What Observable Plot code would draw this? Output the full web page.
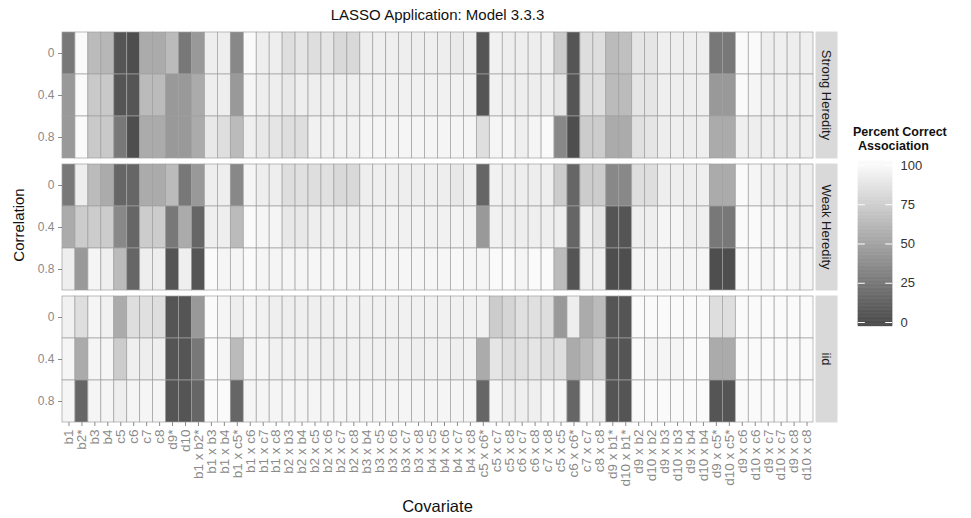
<!DOCTYPE html>
<html><head><meta charset="utf-8">
<script src="https://cdn.jsdelivr.net/npm/d3@7"></script>
<script src="https://cdn.jsdelivr.net/npm/@observablehq/plot@0.6"></script>
<style>
body{margin:0;background:#fff;font-family:"Liberation Sans",Arial,sans-serif;}
#wrap{position:relative;width:971px;height:518px;overflow:hidden;background:#fff;}
#main{position:absolute;left:0;top:0;}
#legend{position:absolute;left:845px;top:150px;}
#title{position:absolute;left:62px;width:751px;top:6px;text-align:center;font-size:15px;color:#111;}
#ylab{position:absolute;left:18px;top:225px;transform:translate(-50%,-50%) rotate(-90deg);font-size:15px;color:#111;white-space:nowrap;}
#xlab{position:absolute;left:62px;width:751px;top:497px;text-align:center;font-size:16.5px;color:#111;}
#legtitle{position:absolute;left:853px;top:125px;font-size:12.5px;font-weight:bold;color:#111;line-height:14px;white-space:nowrap;}
#legtitle span{padding-left:5px;}
</style></head><body>
<div id="wrap">
 <div id="main"></div>
 <div id="legend"></div>
 <div id="title">LASSO Application: Model 3.3.3</div>
 <div id="ylab">Correlation</div>
 <div id="xlab">Covariate</div>
 <div id="legtitle">Percent Correct<br><span>Association</span></div>
</div>
<script>
const covariates = ["b1","b2*","b3","b4","c5","c6","c7","c8","d9*","d10",
 "b1 x b2*","b1 x b3","b1 x b4","b1 x c5*","b1 x c6","b1 x c7","b1 x c8",
 "b2 x b3","b2 x b4","b2 x c5","b2 x c6","b2 x c7","b2 x c8",
 "b3 x b4","b3 x c5","b3 x c6","b3 x c7","b3 x c8",
 "b4 x c5","b4 x c6","b4 x c7","b4 x c8",
 "c5 x c6*","c5 x c7","c5 x c8","c6 x c7","c6 x c8","c7 x c8",
 "c5 x c5","c6 x c6*","c7 x c7","c8 x c8",
 "d9 x b1*","d10 x b1*","d9 x b2","d10 x b2","d9 x b3","d10 x b3","d9 x b4","d10 x b4",
 "d9 x c5*","d10 x c5*","d9 x c6","d10 x c6","d9 x c7","d10 x c7","d9 x c8","d10 x c8"];
const correlations = ["0","0.4","0.8"];
const panels = ["Strong Heredity","Weak Heredity","iid"];

const strongR0  = [26,100,64,62,6,2,55,55,64,26, 45,93,93,35,100,93,93, 84,88,84,88,81,81, 93,94,94,93,93, 94,93,91,93, 6,95,93,93,93,93, 74,6,84,84, 64,67,88,88,94,93,94,93,26,26,100,100,93,94,93,94];
const strongR04 = [45,100,72,72,6,6,64,64,45,45, 55,93,93,45,97,93,93, 90,93,93,93,93,93, 95,95,95,95,95, 95,95,95,95, 6,95,94,93,93,93, 88,6,84,84, 64,64,88,88,94,93,94,94,45,45,100,97,94,94,94,94];
const strongR08 = [45,100,72,72,26,2,55,55,45,45, 55,90,84,64,94,90,88, 84,84,95,95,95,95, 97,97,97,97,97, 97,97,97,97, 84,97,97,94,97,100, 35,2,74,74, 55,55,85,88,93,94,93,93,55,55,94,93,93,93,93,93];
const weakR0    = [26,93,64,55,16,16,55,55,64,26, 45,93,93,35,97,93,93, 84,85,84,85,81,81, 93,94,94,93,93, 94,93,90,93, 16,95,93,93,93,93, 74,16,74,74, 35,35,84,84,93,93,93,94,55,55,100,97,94,93,93,93];
const weakR04   = [55,74,74,74,35,16,74,74,26,55, 16,94,93,64,100,97,97, 90,90,93,94,93,93, 95,95,96,95,96, 95,95,96,95, 45,95,94,93,94,94, 93,16,93,88, 6,6,93,93,97,97,94,94,26,26,100,100,97,97,95,95];
const weakR08   = [93,45,97,94,64,16,93,93,6,94, 6,100,97,97,100,97,97, 97,97,98,98,98,97, 98,98,98,98,98, 98,98,99,98, 97,100,100,97,100,100, 64,6,94,93, 2,2,97,97,97,97,97,97,2,2,100,100,97,100,97,97];
const iidR0     = [95,84,97,95,55,84,85,84,6,6, 45,100,97,93,97,95,94, 93,94,94,94,95,95, 95,95,95,95,95, 95,95,95,95, 95,74,79,85,85,84, 45,93,55,64, 6,6,100,100,100,100,100,100,84,84,100,100,100,100,100,100];
const iidR04    = [97,55,97,97,74,94,93,94,6,6, 26,100,97,64,97,97,95, 95,95,95,94,94,95, 95,95,95,95,94, 95,95,94,95, 55,88,84,85,88,84, 84,55,64,74, 6,6,100,97,97,97,100,100,55,55,100,100,100,100,100,100];
const iidR08    = [97,16,97,97,93,97,97,97,6,6, 16,100,100,16,97,97,97, 97,97,97,97,97,97, 97,97,97,97,97, 97,97,97,97, 16,97,94,94,94,97, 97,16,97,94, 6,6,100,100,100,100,100,100,6,6,100,100,100,100,100,100];
const legendBreaks = [0,25,50,75,100];

const series = [
  [panels[0], [strongR0, strongR04, strongR08]],
  [panels[1], [weakR0, weakR04, weakR08]],
  [panels[2], [iidR0, iidR04, iidR08]]
];
const rows = [];
for (const [panel, rs] of series) {
  rs.forEach((vals, ri) => vals.forEach((v, ci) => rows.push({panel, correlation: correlations[ri], covariate: covariates[ci], value: v})));
}

const colorOpts = {type: "linear", domain: [0, 100], range: ["#4a4a4a", "#fafafa"], interpolate: "rgb", clamp: true};

const main = Plot.plot({
  width: 845, height: 518,
  marginTop: 30, marginLeft: 62, marginRight: 32, marginBottom: 95.5,
  style: {fontFamily: "Liberation Sans, Arial, sans-serif", fontSize: "13px", color: "#8a8a8a", background: "transparent"},
  x: {domain: covariates, padding: 0, label: null},
  y: {domain: correlations, padding: 0, label: null},
  fy: {domain: panels, padding: 0.038, label: null, axis: null},
  color: colorOpts,
  marks: [
    Plot.frame({fill: "#d9d9d9", stroke: null, insetLeft: 753, insetRight: -24}),
    Plot.cell(rows, {x: "covariate", y: "correlation", fy: "panel", fill: "value", stroke: "#a0a0a0", strokeWidth: 0.7, inset: 0}),
    Plot.text(panels, {fy: d => d, text: d => d, frameAnchor: "right", textAnchor: "middle", lineAnchor: "middle", dx: 13, rotate: 90, fontSize: 13, fill: "#1a1a1a"}),
    Plot.axisX({tickRotate: -90, tickSize: 4, tickPadding: 3, fontSize: 13.5, label: null}),
    Plot.axisY({tickSize: 4, tickPadding: 4, fontSize: 12, label: null})
  ]
});
document.getElementById("main").appendChild(main);

const legendSteps = d3.range(-2.5, 102.5, 0.5);
const legend = Plot.plot({
  width: 126, height: 190,
  marginTop: 15, marginBottom: 18, marginLeft: 13, marginRight: 79,
  style: {fontFamily: "Liberation Sans, Arial, sans-serif", fontSize: "13px", color: "#333", background: "transparent"},
  x: {domain: [0, 1], axis: null},
  y: {domain: [0, 100], axis: null},
  color: colorOpts,
  marks: [
    Plot.rect(legendSteps, {x1: 0, x2: 1, y1: d => d, y2: d => d + 0.5, fill: d => d, stroke: d => d, strokeWidth: 0.5}),
    Plot.ruleY(legendBreaks, {x1: 0, x2: 0.2, stroke: "white", strokeWidth: 1}),
    Plot.ruleY(legendBreaks, {x1: 0.8, x2: 1, stroke: "white", strokeWidth: 1}),
    Plot.axisY(legendBreaks, {anchor: "right", tickSize: 0, tickPadding: 8, label: null})
  ]
});
document.getElementById("legend").appendChild(legend);
</script>
</body></html>
